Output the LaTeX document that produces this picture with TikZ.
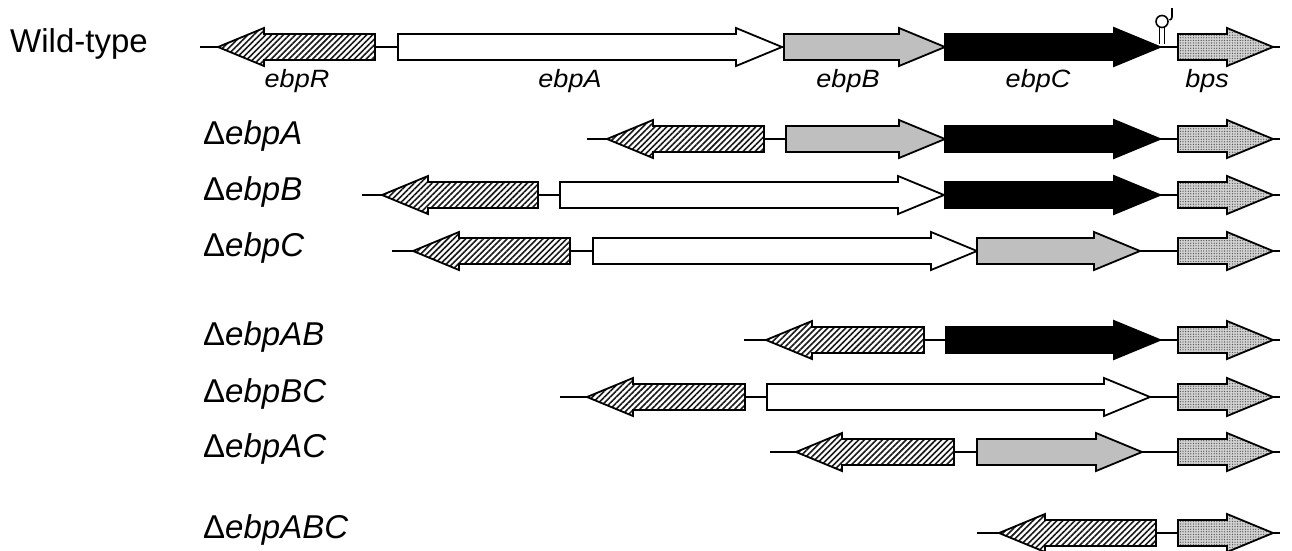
\documentclass[tikz,border=0pt]{standalone}
\usepackage{fontspec}
\setmainfont{Liberation Sans}
\usetikzlibrary{patterns.meta}
\tikzset{
 gene/.style={draw=black, line width=1.8pt, line join=miter},
 ebpRs/.style={gene, preaction={fill=white}, pattern={Lines[angle=45,distance=4.2pt,line width=1.6pt]}, pattern color=black!90},
 ebpAs/.style={gene, fill=white},
 ebpBs/.style={gene, fill=black!25},
 ebpCs/.style={gene, fill=black},
 bpss/.style={gene, preaction={fill=black!18}, pattern={Dots[radius=0.65pt,distance=2.6pt]}, pattern color=black!70},
 dna/.style={line width=1.8pt},
 term/.style={line width=1.6pt},
 rowlabel/.style={anchor=base west, inner sep=0pt, font=\fontsize{33}{40}\selectfont},
 genelabel/.style={anchor=base, inner sep=0pt, font=\fontsize{25}{30}\selectfont\itshape, xscale=1.08},
}
% right-pointing gene: x1, x2 (tip), y, style
\newcommand\generight[4]{\draw[#4] (#1,{#3-13}) -- ({#2-46},{#3-13}) -- ({#2-46},{#3-19}) -- (#2,#3) -- ({#2-46},{#3+19}) -- ({#2-46},{#3+13}) -- (#1,{#3+13}) -- cycle;}
% left-pointing gene: x1 (tip), x2, y, style
\newcommand\geneleft[4]{\draw[#4] (#2,{#3-13}) -- ({#1+46},{#3-13}) -- ({#1+46},{#3-19}) -- (#1,#3) -- ({#1+46},{#3+19}) -- ({#1+46},{#3+13}) -- (#2,{#3+13}) -- cycle;}
\newcommand\dnaline[2]{\coordinate (s#2) at (#1,#2); \coordinate (e#2) at (1280,#2); \draw[dna] (s#2) -- (e#2);}
\begin{document}
\begin{tikzpicture}[x=1pt,y=-1pt]
\useasboundingbox (0,0) rectangle (1292,550);
% Wild-type
\node[rowlabel] (lwt) at (10,52) {Wild-type};
\dnaline{200}{47}
\geneleft{218}{375}{47}{ebpRs}
\generight{398}{782}{47}{ebpAs}
\generight{784}{945}{47}{ebpBs}
\generight{945}{1160}{47}{ebpCs}
\generight{1178}{1273}{47}{bpss}
\draw[term] (1159.5,27) -- (1159.5,44) (1164.5,27) -- (1164.5,44);
\draw[term] (1162,21.5) circle[radius=6];
\draw[term] (1172,8) -- (1172,17) to[out=-90,in=10] (1169.5,20);
\node[genelabel] (gR) at (297,87) {ebpR};
\node[genelabel] (gA) at (570,87) {ebpA};
\node[genelabel] (gB) at (848,87) {ebpB};
\node[genelabel] (gC) at (1038,87) {ebpC};
\node[genelabel] (gbps) at (1207,87) {bps};
% Delta ebpA
\node[rowlabel] (l1) at (203,144) {Δ\textit{ebpA}};
\dnaline{587}{139}
\geneleft{607}{764}{139}{ebpRs}
\generight{786}{945}{139}{ebpBs}
\generight{945}{1160}{139}{ebpCs}
\generight{1178}{1273}{139}{bpss}
% Delta ebpB
\node[rowlabel] (l2) at (203,200) {Δ\textit{ebpB}};
\dnaline{362}{195}
\geneleft{382}{538}{195}{ebpRs}
\generight{560}{944}{195}{ebpAs}
\generight{945}{1160}{195}{ebpCs}
\generight{1178}{1273}{195}{bpss}
% Delta ebpC
\node[rowlabel] (l3) at (203,256) {Δ\textit{ebpC}};
\dnaline{392}{251}
\geneleft{413}{570}{251}{ebpRs}
\generight{593}{977}{251}{ebpAs}
\generight{977}{1140}{251}{ebpBs}
\generight{1178}{1273}{251}{bpss}
% Delta ebpAB
\node[rowlabel] (l4) at (203,345) {Δ\textit{ebpAB}};
\dnaline{744}{340}
\geneleft{766}{924}{340}{ebpRs}
\generight{946}{1160}{340}{ebpCs}
\generight{1178}{1273}{340}{bpss}
% Delta ebpBC
\node[rowlabel] (l5) at (203,402) {Δ\textit{ebpBC}};
\dnaline{560}{397}
\geneleft{587}{745}{397}{ebpRs}
\generight{767}{1150}{397}{ebpAs}
\generight{1178}{1273}{397}{bpss}
% Delta ebpAC
\node[rowlabel] (l6) at (203,457) {Δ\textit{ebpAC}};
\dnaline{770}{452}
\geneleft{796}{954}{452}{ebpRs}
\generight{977}{1142}{452}{ebpBs}
\generight{1178}{1273}{452}{bpss}
% Delta ebpABC
\node[rowlabel] (l7) at (203,538) {Δ\textit{ebpABC}};
\dnaline{977}{533}
\geneleft{999}{1156}{533}{ebpRs}
\generight{1178}{1273}{533}{bpss}
\end{tikzpicture}
\end{document}
